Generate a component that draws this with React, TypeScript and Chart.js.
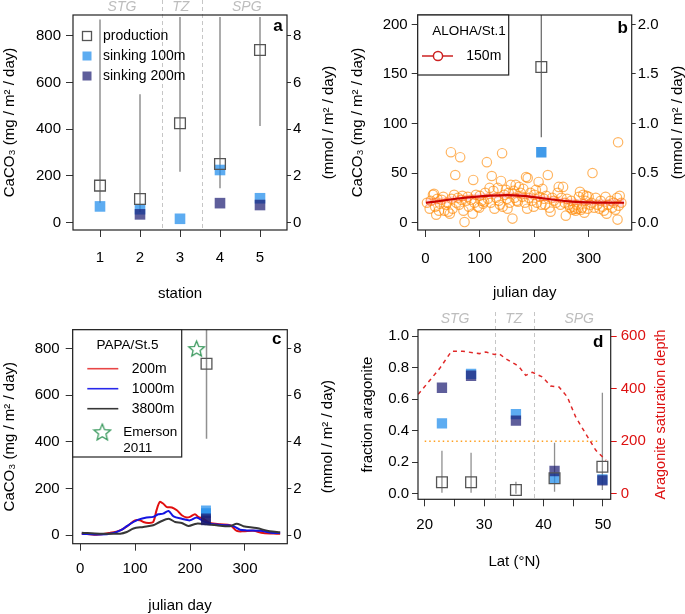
import React, { useEffect, useRef } from "react";
import { Chart, registerables } from "chart.js";

Chart.register(...registerables);

const FONT = "'Liberation Sans', Arial, Helvetica, sans-serif";
Chart.defaults.font.family = FONT;

const LIGHT = "rgba(30,140,235,0.72)";
const NAVY = "rgba(25,25,112,0.7)";
const PROD_BORDER = "#555555";
const BAR_COLOR = "rgba(125,125,125,0.85)";
const REGION_COLOR = "#c6c6c6";
const REGION_TEXT = "#bdbdbd";

// ---------------- Panel a ----------------
const aStations = [1, 2, 3, 4, 5];
const aStationLabels = ["1", "2", "3", "4", "5"];
const aProduction = [158, 101, 425, 251, 739];
const aProdLow = [85, 45, 218, 147, 414];
const aProdHigh = [870, 549, 880, 880, 880];
const aSink100 = [69, 57, 16, 225, 104];
const aSink200: (number | null)[] = [null, 35, null, 83, 75];
const aLeftTicks = [0, 200, 400, 600, 800];
const aLeftLabels = ["0", "200", "400", "600", "800"];
const aRightTicks = [0, 2, 4, 6, 8];
const aRightLabels = ["0", "2", "4", "6", "8"];
const aRegionNames = ["STG", "TZ", "SPG"];
const aRegionCenters = [1.55, 3.02, 4.67];
const aRegionBounds = [2.55, 3.55];
const aLegendLabels = ["production", "sinking 100m", "sinking 200m"];

// ---------------- Panel b ----------------
const bDayTicks = [0, 100, 200, 300];
const bDayLabels = ["0", "100", "200", "300"];
const bLeftTicks = [0, 50, 100, 150, 200];
const bLeftLabels = ["0", "50", "100", "150", "200"];
const bRightTicks = [0, 0.5, 1, 1.5, 2];
const bRightLabels = ["0.0", "0.5", "1.0", "1.5", "2.0"];
const bDays = [3, 8, 10, 14, 16, 18, 20, 22, 25, 27, 30, 33, 35, 38, 40, 42, 45, 47, 48, 50, 53, 55, 57, 60, 62, 64, 66, 68, 70, 72, 75, 78, 80, 84, 87, 88, 90, 93, 96, 99, 100, 103, 106, 108, 110, 113, 115, 118, 120, 122, 125, 127, 130, 133, 135, 137, 139, 141, 142, 145, 148, 150, 151, 153, 155, 157, 160, 162, 164, 166, 168, 170, 172, 175, 178, 180, 183, 185, 187, 188, 190, 193, 196, 199, 200, 203, 205, 208, 210, 213, 215, 218, 220, 222, 225, 228, 230, 233, 236, 240, 243, 245, 248, 250, 253, 256, 258, 260, 263, 266, 268, 270, 272, 274, 276, 278, 280, 282, 284, 286, 288, 290, 292, 294, 296, 298, 300, 303, 305, 307, 310, 313, 316, 320, 322, 325, 328, 331, 333, 336, 340, 343, 346, 349, 352, 353, 354, 355, 357, 360];
const bFlux = [20, 14, 22, 28, 29, 16, 8, 24, 12, 19, 23, 26, 12, 18, 20, 11, 9, 71, 24, 14, 28, 48, 20, 25, 18, 66, 23, 27, 12, 0.5, 22, 26, 16, 23, 9, 43, 20, 28, 16, 15, 27, 22, 19, 21, 30, 61, 24, 35, 20, 47, 32, 14, 25, 35, 22, 18, 42, 70, 16, 28, 33, 24, 14, 30, 20, 38, 4, 32, 25, 38, 22, 21, 36, 30, 26, 34, 20, 46, 14, 45, 25, 30, 22, 16, 28, 33, 20, 41, 26, 18, 34, 24, 18, 27, 48, 15, 11, 25, 22, 20, 30, 36, 18, 25, 36, 20, 7, 24, 18, 15, 22, 13, 16, 14, 12, 18, 14, 26, 31, 13, 15, 28, 10, 22, 27, 14, 26, 18, 20, 50, 15, 25, 18, 14, 22, 16, 12, 26, 9, 18, 22, 15, 20, 13, 25, 3, 81, 17, 27, 20];
const bSmoothDays = [1, 30, 60, 90, 120, 150, 180, 210, 240, 270, 300, 330, 365];
const bSmooth = [20.0, 22.0, 24.3, 26.0, 27.2, 27.8, 27.0, 25.0, 22.8, 21.2, 20.4, 20.1, 20.0];
const bSmoothLow = [16.0, 18.8, 21.3, 23.1, 24.4, 24.9, 24.1, 22.1, 19.9, 18.3, 17.4, 16.9, 16.0];
const bSmoothHigh = [24.0, 25.2, 27.3, 28.9, 30.0, 30.7, 29.9, 27.9, 25.7, 24.1, 23.4, 23.3, 24.0];
const bProdDay = [213];
const bProd = [157];
const bProdLow = [86];
const bProdHigh = [230];
const bSink100 = [71];

// ---------------- Panel c ----------------
const cDayTicks = [0, 100, 200, 300];
const cDayLabels = ["0", "100", "200", "300"];
const cDays200 = [3, 30, 54, 73, 88, 100, 109, 115, 124, 133, 139, 145, 151, 158, 167, 176, 185, 194, 200, 209, 215, 224, 236, 255, 273, 285, 297, 315, 333, 358, 364];
const cFlux200 = [7, 2, 10, 21, 43, 64, 64, 57, 53, 57, 107, 143, 136, 121, 119, 107, 86, 76, 79, 90, 79, 71, 53, 47, 43, 19, 17, 19, 10, 7, 7];
const cDays1000 = [3, 36, 61, 76, 85, 97, 106, 121, 133, 142, 151, 161, 170, 185, 200, 212, 224, 242, 267, 279, 291, 303, 327, 352, 364];
const cFlux1000 = [7, 3, 10, 24, 39, 57, 67, 76, 79, 90, 93, 104, 81, 71, 64, 76, 61, 47, 43, 39, 24, 21, 19, 10, 10];
const cDays3800 = [3, 36, 73, 85, 97, 115, 133, 145, 161, 173, 185, 197, 212, 230, 248, 273, 285, 297, 321, 345, 364];
const cFlux3800 = [11, 7, 7, 14, 29, 36, 43, 57, 71, 57, 53, 40, 50, 47, 43, 39, 50, 39, 31, 17, 13];
const cProdDay = [230];
const cProd = [735];
const cProdLow = [414];
const cProdHigh = [900];
const cSinkDay = [229, 229];
const cSink100 = [106, 95];
const cSink200 = [72, 64];
const cStarDay = [212];
const cStar = [800];
const cLegendDepths = ["200m", "1000m", "3800m"];

// ---------------- Panel d ----------------
const dLat = [22.9, 27.8, 35.35, 41.85, 49.9];
const dProd = [0.072, 0.072, 0.023, 0.098, 0.171];
const dProdLow = [0.006, 0.006, 0.0, 0.013, 0.023];
const dProdHigh = [0.273, 0.26, 0.076, 0.323, 0.64];
const dSink100 = [0.446, 0.76, 0.505, 0.1, 0.09];
const dSink200 = [0.672, 0.748, 0.463, 0.144, 0.085];
const dSatLat = [18.9, 22.5, 24.5, 26.4, 29.2, 30.3, 31.7, 32.5, 33.6, 35.3, 35.9, 37.0, 38.1, 39.8, 41.2, 42.6, 44.0, 45.4, 47.1, 48.8, 50.5];
const dSatDepth = [378, 476, 542, 542, 533, 539, 530, 533, 514, 492, 482, 450, 462, 444, 410, 406, 368, 292, 228, 165, 127];
const dRefLat = [20, 49.5];
const dRef = [0.333, 0.333];
const dLatTicks = [20, 25, 30, 35, 40, 45, 50];
const dLatLabels = ["20", "", "30", "", "40", "", "50"];
const dLeftTicks = [0, 0.2, 0.4, 0.6, 0.8, 1.0];
const dLeftLabels = ["0.0", "0.2", "0.4", "0.6", "0.8", "1.0"];
const dRightTicks = [0, 200, 400, 600];
const dRightLabels = ["0", "200", "400", "600"];
const dRegionNames = ["STG", "TZ", "SPG"];
const dRegionCenters = [25.1, 35.0, 46.0];
const dRegionBounds = [31.75, 38.4];

// ---------------- helpers ----------------
function axis(o: any) {
  const horizontal = o.position === "bottom";
  return {
    type: "linear",
    position: o.position,
    min: o.min,
    max: o.max,
    afterBuildTicks: (s: any) => {
      s.ticks = o.ticks.map((v: number) => ({ value: v }));
    },
    afterFit: (s: any) => {
      if (horizontal) s.height = o.size;
      else s.width = o.size;
    },
    ticks: {
      autoSkip: false,
      maxRotation: 0,
      minRotation: 0,
      padding: o.padding,
      color: o.color || "#000",
      font: { size: o.fontSize || 15, family: FONT },
      callback: (_v: any, i: number) => o.labels[i],
    },
    grid: {
      drawOnChartArea: false,
      drawTicks: true,
      tickLength: o.tickLength,
      color: o.tickColor || "#333",
      lineWidth: 1,
    },
    border: { display: false },
    title: o.title
      ? {
          display: true,
          text: o.title,
          color: o.titleColor || "#000",
          font: { size: o.titleSize || 15, lineHeight: 1, family: FONT },
          padding: o.titlePad,
        }
      : { display: false },
  };
}

function pts(xs: number[], ys: (number | null)[]) {
  const out: any[] = [];
  xs.forEach((x, i) => {
    const y = ys[i];
    if (y !== null && y !== undefined) out.push({ x, y });
  });
  return out;
}

function errBars(xs: number[], lows: number[], highs: number[], width = 1.5, color = BAR_COLOR) {
  return xs.map((x, i) => ({
    data: [
      { x, y: lows[i] },
      { x, y: highs[i] },
    ],
    showLine: true,
    borderColor: color,
    borderWidth: width,
    pointRadius: 0,
    order: 20,
  }));
}

function squares(data: any[], color: string, radius = 7.5, order = 5) {
  return {
    data,
    pointStyle: "rect",
    pointRadius: radius,
    backgroundColor: color,
    borderWidth: 0,
    borderColor: "rgba(0,0,0,0)",
    showLine: false,
    order,
  };
}

function prodSquares(data: any[], order = 1) {
  return {
    data,
    pointStyle: "rect",
    pointRadius: 7.6,
    backgroundColor: "rgba(255,255,255,0)",
    borderColor: PROD_BORDER,
    borderWidth: 1.3,
    showLine: false,
    order,
  };
}

function line(xs: number[], ys: number[], color: string, width: number, extra: any = {}) {
  return {
    data: pts(xs, ys),
    showLine: true,
    borderColor: color,
    borderWidth: width,
    pointRadius: 0,
    backgroundColor: "rgba(0,0,0,0)",
    ...extra,
  };
}

function txt(ctx: any, s: string, x: number, y: number, o: any = {}) {
  ctx.save();
  ctx.font = `${o.style || ""} ${o.weight || ""} ${o.size || 14}px ${FONT}`;
  ctx.fillStyle = o.color || "#000";
  ctx.textAlign = o.align || "left";
  ctx.textBaseline = o.baseline || "middle";
  if (o.rotate) {
    ctx.translate(x, y);
    ctx.rotate(o.rotate);
    ctx.fillText(s, 0, 0);
  } else {
    ctx.fillText(s, x, y);
  }
  ctx.restore();
}

function drawBox(chart: any) {
  const { ctx, chartArea: a } = chart;
  ctx.save();
  ctx.strokeStyle = "#222";
  ctx.lineWidth = 1.2;
  ctx.strokeRect(a.left, a.top, a.right - a.left, a.bottom - a.top);
  ctx.restore();
}

function panelLetter(chart: any, s: string, dx: number, dy: number) {
  const a = chart.chartArea;
  txt(chart.ctx, s, a.right - dx, a.top + dy, { size: 17, weight: "bold", align: "center", baseline: "alphabetic" });
}

function rightTitle(chart: any, s: string, x: number, color = "#000", size = 15) {
  const a = chart.chartArea;
  txt(chart.ctx, s, x, (a.top + a.bottom) / 2, { size, color, align: "center", rotate: -Math.PI / 2 });
}

function regionLines(chart: any, bounds: number[], y0: number) {
  const { ctx, chartArea: a, scales } = chart;
  ctx.save();
  ctx.strokeStyle = REGION_COLOR;
  ctx.lineWidth = 1;
  ctx.setLineDash([4, 3]);
  bounds.forEach((b) => {
    const x = Math.round(scales.x.getPixelForValue(b)) + 0.5;
    ctx.beginPath();
    ctx.moveTo(x, y0);
    ctx.lineTo(x, a.bottom);
    ctx.stroke();
  });
  ctx.restore();
}

function regionLabels(chart: any, names: string[], centers: number[], y: number) {
  names.forEach((n, i) => {
    txt(chart.ctx, n, chart.scales.x.getPixelForValue(centers[i]), y, {
      size: 14,
      style: "italic",
      color: REGION_TEXT,
      align: "center",
    });
  });
}

function legendSquare(ctx: any, x: number, y: number, side: number, fill: string | null, stroke: string | null) {
  ctx.save();
  if (fill) {
    ctx.fillStyle = fill;
    ctx.fillRect(x - side / 2, y - side / 2, side, side);
  }
  if (stroke) {
    ctx.strokeStyle = stroke;
    ctx.lineWidth = 1.3;
    ctx.strokeRect(x - side / 2, y - side / 2, side, side);
  }
  ctx.restore();
}

function makeStar(size: number, color: string, lw: number) {
  const c = document.createElement("canvas");
  c.width = size;
  c.height = size;
  const g = c.getContext("2d")!;
  const cx = size / 2;
  const cy = size / 2 + size * 0.04;
  const R = size / 2 - lw;
  const r = R * 0.45;
  g.beginPath();
  for (let k = 0; k < 10; k++) {
    const ang = -Math.PI / 2 + (k * Math.PI) / 5;
    const rad = k % 2 === 0 ? R : r;
    g.lineTo(cx + rad * Math.cos(ang), cy + rad * Math.sin(ang));
  }
  g.closePath();
  g.strokeStyle = color;
  g.lineWidth = lw;
  g.stroke();
  return c;
}

function baseOptions(padTop: number, scales: any) {
  return {
    responsive: false,
    maintainAspectRatio: false,
    animation: false,
    devicePixelRatio: 1,
    events: [],
    layout: { padding: { top: padTop, left: 0, right: 0, bottom: 0 } },
    plugins: { legend: { display: false }, tooltip: { enabled: false } },
    scales,
  };
}

// ---------------- chart builders ----------------
function buildA() {
  const scales = {
    x: axis({ position: "bottom", min: 0.325, max: 5.675, ticks: aStations, labels: aStationLabels, size: 77, tickLength: 7, padding: 12, title: "station", titlePad: { top: 0, bottom: 6 } }),
    y: axis({ position: "left", min: -32, max: 889, ticks: aLeftTicks, labels: aLeftLabels, size: 73, tickLength: 7, padding: 5, title: "CaCO\u2083 (mg / m\u00b2 / day)", titlePad: { top: 2.5, bottom: 0 } }),
    y2: axis({ position: "right", min: -0.32, max: 8.89, ticks: aRightTicks, labels: aRightLabels, size: 56, tickLength: 4, padding: 2 }),
  };
  const datasets: any[] = [
    prodSquares(pts(aStations, aProduction), 1),
    squares(pts(aStations, aSink200), NAVY, 7.5, 3),
    squares(pts(aStations, aSink100), LIGHT, 7.5, 4),
    ...errBars(aStations, aProdLow, aProdHigh),
  ];
  const plugin = {
    id: "overlayA",
    beforeDatasetsDraw(chart: any) {
      regionLines(chart, aRegionBounds, 0);
    },
    afterDraw(chart: any) {
      const ctx = chart.ctx;
      drawBox(chart);
      regionLabels(chart, aRegionNames, aRegionCenters, 7);
      panelLetter(chart, "a", 9, 16);
      rightTitle(chart, "(mmol / m\u00b2 / day)", 328.5);
      const rows = [36, 56, 76];
      legendSquare(ctx, 87, rows[0], 9, null, PROD_BORDER);
      legendSquare(ctx, 87, rows[1], 9, LIGHT, null);
      legendSquare(ctx, 87, rows[2], 9, NAVY, null);
      aLegendLabels.forEach((l, i) => txt(ctx, l, 103, rows[i], { size: 14 }));
    },
  };
  return { type: "scatter", data: { datasets }, options: baseOptions(15, scales), plugins: [plugin] };
}

function buildB() {
  const scales = {
    x: axis({ position: "bottom", min: -14, max: 379, ticks: bDayTicks, labels: bDayLabels, size: 77, tickLength: 7, padding: 13, title: "julian day", titlePad: { top: 0, bottom: 6.5 } }),
    y: axis({ position: "left", min: -7.5, max: 209.5, ticks: bLeftTicks, labels: bLeftLabels, size: 74.7, tickLength: 6, padding: 4, title: "CaCO\u2083 (mg / m\u00b2 / day)", titlePad: { top: 7.5, bottom: 0 } }),
    y2: axis({ position: "right", min: -0.075, max: 2.095, ticks: bRightTicks, labels: bRightLabels, size: 53.3, tickLength: 4, padding: 2 }),
  };
  const datasets: any[] = [
    prodSquares(pts(bProdDay, bProd), 1),
    squares(pts(bProdDay, bSink100), "rgba(30,136,229,0.85)", 7.3, 2),
    line(bSmoothDays, bSmooth, "#c80000", 2.2, { tension: 0.4, cubicInterpolationMode: "monotone", order: 4 }),
    line(bSmoothDays, bSmoothHigh, "rgba(0,0,0,0)", 0, { tension: 0.4, cubicInterpolationMode: "monotone", fill: "+1", backgroundColor: "rgba(255,60,90,0.2)", order: 5 }),
    line(bSmoothDays, bSmoothLow, "rgba(0,0,0,0)", 0, { tension: 0.4, cubicInterpolationMode: "monotone", order: 6 }),
    {
      data: pts(bDays, bFlux),
      showLine: false,
      pointStyle: "circle",
      pointRadius: 4.7,
      borderWidth: 1.2,
      borderColor: "rgba(255,135,0,0.62)",
      backgroundColor: "rgba(0,0,0,0)",
      order: 8,
    },
    ...errBars(bProdDay, bProdLow, bProdHigh, 1.3, "rgba(95,95,95,0.9)"),
  ];
  const plugin = {
    id: "overlayB",
    afterDraw(chart: any) {
      const ctx = chart.ctx;
      const a = chart.chartArea;
      drawBox(chart);
      panelLetter(chart, "b", 9, 17.5);
      rightTitle(chart, "(mmol / m\u00b2 / day)", 335);
      ctx.save();
      ctx.fillStyle = "#fff";
      ctx.fillRect(a.left, a.top, 165.7 - a.left, 75 - a.top);
      ctx.strokeStyle = "#222";
      ctx.lineWidth = 1.2;
      ctx.strokeRect(a.left, a.top, 165.7 - a.left, 75 - a.top);
      ctx.strokeStyle = "#cc2222";
      ctx.lineWidth = 1.5;
      ctx.beginPath();
      ctx.moveTo(79, 56);
      ctx.lineTo(110, 56);
      ctx.stroke();
      ctx.fillStyle = "#fff";
      ctx.beginPath();
      ctx.arc(95, 56, 4.6, 0, Math.PI * 2);
      ctx.fill();
      ctx.stroke();
      ctx.restore();
      txt(ctx, "ALOHA/St.1", 126, 31.7, { size: 13.5, align: "center" });
      txt(ctx, "150m", 123.3, 56, { size: 14 });
    },
  };
  return { type: "scatter", data: { datasets }, options: baseOptions(15, scales), plugins: [plugin] };
}

function buildC() {
  const star = makeStar(19, "#3c9a5f", 1.3);
  const legendStar = makeStar(20, "#3c9a5f", 1.3);
  const scales = {
    x: axis({ position: "bottom", min: -13.5, max: 377, ticks: cDayTicks, labels: cDayLabels, size: 70.3, tickLength: 7, padding: 9, title: "julian day", titlePad: { top: 0, bottom: 0.5 } }),
    y: axis({ position: "left", min: -36, max: 881, ticks: aLeftTicks, labels: aLeftLabels, size: 72.7, tickLength: 7, padding: 6, title: "CaCO\u2083 (mg / m\u00b2 / day)", titlePad: { top: 2.5, bottom: 0 } }),
    y2: axis({ position: "right", min: -0.36, max: 8.81, ticks: aRightTicks, labels: aRightLabels, size: 55.7, tickLength: 4, padding: 2 }),
  };
  const datasets: any[] = [
    { data: pts(cStarDay, cStar), pointStyle: star, pointRadius: 9, showLine: false, order: 0 },
    prodSquares(pts(cProdDay, cProd), 1),
    squares(pts(cSinkDay, cSink200), NAVY, 7.0, 3),
    squares(pts(cSinkDay, cSink100), LIGHT, 7.0, 4),
    line(cDays3800, cFlux3800, "rgb(55,55,55)", 2, { tension: 0.3, order: 6 }),
    line(cDays1000, cFlux1000, "rgb(20,20,225)", 2, { tension: 0.3, order: 7 }),
    line(cDays200, cFlux200, "rgb(225,15,15)", 2, { tension: 0.3, order: 8 }),
    ...errBars(cProdDay, cProdLow, cProdHigh, 1.5),
  ];
  const plugin = {
    id: "overlayC",
    afterDraw(chart: any) {
      const ctx = chart.ctx;
      const a = chart.chartArea;
      drawBox(chart);
      panelLetter(chart, "c", 10.5, 14.5);
      rightTitle(chart, "(mmol / m\u00b2 / day)", 328.3);
      ctx.save();
      ctx.fillStyle = "#fff";
      ctx.fillRect(a.left, a.top, 181.7 - a.left, 150 - a.top);
      ctx.strokeStyle = "#222";
      ctx.lineWidth = 1.2;
      ctx.strokeRect(a.left, a.top, 181.7 - a.left, 150 - a.top);
      const colors = ["rgb(232,70,70)", "rgb(40,40,235)", "rgb(55,55,55)"];
      const ys = [61.7, 81.7, 101.7];
      colors.forEach((c, i) => {
        ctx.strokeStyle = c;
        ctx.lineWidth = 1.6;
        ctx.beginPath();
        ctx.moveTo(87.3, ys[i]);
        ctx.lineTo(118.3, ys[i]);
        ctx.stroke();
      });
      ctx.drawImage(legendStar, 102.3 - 10, 125 - 10);
      ctx.restore();
      txt(ctx, "PAPA/St.5", 127.5, 38.3, { size: 13.5, align: "center" });
      cLegendDepths.forEach((d, i) => txt(ctx, d, 131.7, ys[i], { size: 14 }));
      txt(ctx, "Emerson", 123.3, 125, { size: 13.5 });
      txt(ctx, "2011", 123.3, 141.7, { size: 13.5 });
    },
  };
  return { type: "scatter", data: { datasets }, options: baseOptions(22.7, scales), plugins: [plugin] };
}

function buildD() {
  const scales = {
    x: axis({ position: "bottom", min: 18.87, max: 51.3, ticks: dLatTicks, labels: dLatLabels, size: 114.7, tickLength: 7, padding: 10, title: "Lat (\u00b0N)", titlePad: { top: 0, bottom: 44.5 } }),
    y: axis({ position: "left", min: -0.0355, max: 1.04, ticks: dLeftTicks, labels: dLeftLabels, size: 75, tickLength: 6, padding: 3, title: "fraction aragonite", titlePad: { top: 17.5, bottom: 0 } }),
    y2: axis({ position: "right", min: -21.3, max: 624, ticks: dRightTicks, labels: dRightLabels, size: 74.3, tickLength: 6, padding: 4, color: "#dd1111", tickColor: "#dd1111" }),
  };
  const datasets: any[] = [
    prodSquares(pts(dLat, dProd), 1),
    squares(pts(dLat, dSink200), NAVY, 7.3, 3),
    squares(pts(dLat, dSink100), LIGHT, 7.3, 4),
    line(dSatLat, dSatDepth, "#e02828", 1.5, { borderDash: [4, 4], yAxisID: "y2", order: 6 }),
    line(dRefLat, dRef, "#ffa020", 1.5, { borderDash: [1.5, 3], order: 7 }),
    ...errBars(dLat, dProdLow, dProdHigh, 1.3),
  ];
  const plugin = {
    id: "overlayD",
    beforeDatasetsDraw(chart: any) {
      regionLines(chart, dRegionBounds, 5);
    },
    afterDraw(chart: any) {
      drawBox(chart);
      regionLabels(chart, dRegionNames, dRegionCenters, 11.7);
      panelLetter(chart, "d", 12.5, 17);
      rightTitle(chart, "Aragonite saturation depth", 318, "#dd1111", 14.5);
    },
  };
  return { type: "scatter", data: { datasets }, options: baseOptions(22.7, scales), plugins: [plugin] };
}

function Panel({ left, top, width, height, make }: { left: number; top: number; width: number; height: number; make: () => any }) {
  const ref = useRef<HTMLCanvasElement>(null);
  useEffect(() => {
    const chart = new Chart(ref.current as HTMLCanvasElement, make());
    return () => chart.destroy();
  }, []);
  return <canvas ref={ref} width={width} height={height} style={{ position: "absolute", left, top, width, height }} />;
}

export default function App() {
  return (
    <div style={{ position: "absolute", left: 0, top: 0, width: 685, height: 614, background: "#fff", overflow: "hidden" }}>
      <Panel left={0} top={0} width={343} height={307} make={buildA} />
      <Panel left={343} top={0} width={342} height={307} make={buildB} />
      <Panel left={0} top={307} width={343} height={307} make={buildC} />
      <Panel left={343} top={307} width={342} height={307} make={buildD} />
    </div>
  );
}
